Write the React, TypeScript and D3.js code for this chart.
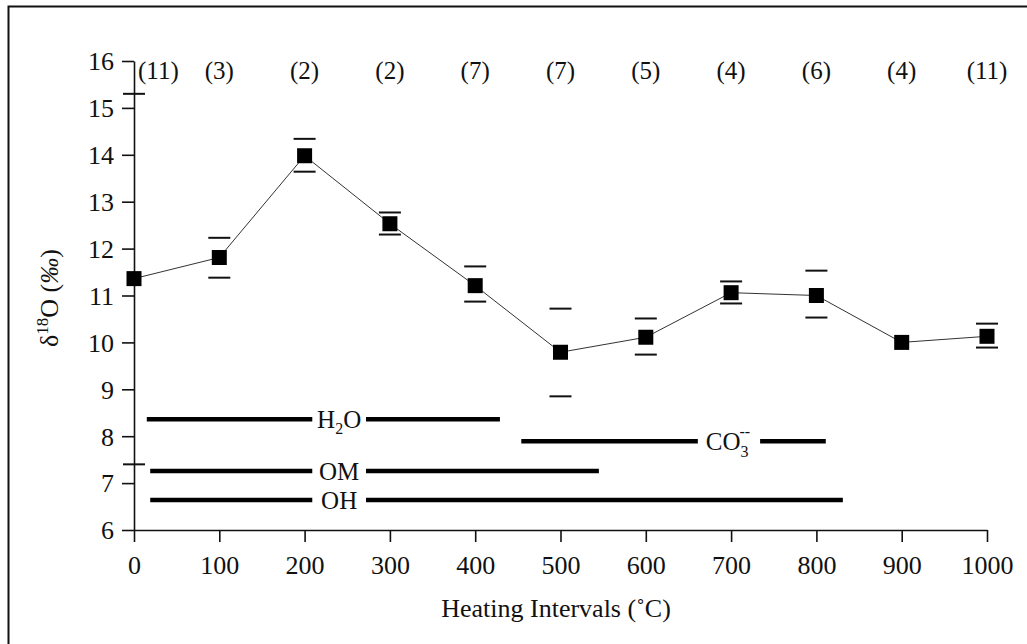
import React, { useEffect, useRef } from "react";
import * as d3 from "d3";

// heating step (deg C), mean d18O, error bar ends, number of samples
const temps = [0, 100, 200, 300, 400, 500, 600, 700, 800, 900, 1000];
const means = [11.36, 11.81, 13.98, 12.53, 11.21, 9.79, 10.11, 11.06, 11.0, 10.0, 10.13];
const upper = [15.3, 12.23, 14.34, 12.77, 11.62, 10.72, 10.51, 11.3, 11.53, 10.0, 10.4];
const lower = [7.4, 11.38, 13.64, 12.3, 10.87, 8.85, 9.74, 10.83, 10.53, 10.0, 9.89];
const counts = [11, 3, 2, 2, 7, 7, 5, 4, 6, 4, 11];

// release ranges drawn as thick bars
const rangeNames = ["H2O", "CO3", "OM", "OH"];
const rangeLevel = [8.36, 7.89, 7.26, 6.64];
const rangeFrom = [15, 454, 19, 19];
const rangeTo = [429, 811, 545, 831];
const gapFrom = [209, 661, 209, 209];
const gapTo = [272, 734, 272, 272];

const xTicks = [0, 100, 200, 300, 400, 500, 600, 700, 800, 900, 1000];
const yTicks = [6, 7, 8, 9, 10, 11, 12, 13, 14, 15, 16];

const FONT = "'Liberation Serif', 'Times New Roman', serif";

export default function App() {
  const ref = useRef<SVGSVGElement>(null);

  useEffect(() => {
    const svg = d3.select(ref.current);
    svg.selectAll("*").remove();

    const x = d3.scaleLinear().domain([0, 1000]).range([134, 987]);
    const y = d3.scaleLinear().domain([6, 16]).range([530, 61]);

    // outer frame
    svg.append("rect")
      .attr("x", 8.5).attr("y", 6.5)
      .attr("width", 1040).attr("height", 660)
      .attr("fill", "none").attr("stroke", "#111").attr("stroke-width", 2);

    // axes
    const xAxis = svg.append("g")
      .attr("transform", `translate(0,${y(6)})`)
      .call(d3.axisBottom(x).tickValues(xTicks).tickSize(12).tickSizeOuter(0).tickFormat(d3.format("d")));
    const yAxis = svg.append("g")
      .attr("transform", `translate(${x(0)},0)`)
      .call(d3.axisLeft(y).tickValues(yTicks).tickSize(12).tickSizeOuter(0).tickFormat(d3.format("d")));

    [xAxis, yAxis].forEach(g => {
      g.select(".domain").attr("stroke", "#111").attr("stroke-width", 1.6);
      g.selectAll(".tick line").attr("stroke", "#111").attr("stroke-width", 1.6);
      g.selectAll(".tick text")
        .attr("font-family", FONT).attr("font-size", 26).attr("fill", "#111");
    });
    xAxis.selectAll(".tick text").attr("dy", "1.1em");
    yAxis.selectAll(".tick text").attr("x", -20).attr("dy", "0.34em");

    // connecting line
    const line = d3.line<number>()
      .x((d, i) => x(temps[i]))
      .y(d => y(d));
    svg.append("path")
      .attr("d", line(means))
      .attr("fill", "none").attr("stroke", "#333").attr("stroke-width", 1);

    // error bar caps
    const capW = 22;
    temps.forEach((t, i) => {
      if (upper[i] === lower[i]) return;
      [upper[i], lower[i]].forEach(v => {
        svg.append("line")
          .attr("x1", x(t) - capW / 2).attr("x2", x(t) + capW / 2)
          .attr("y1", y(v)).attr("y2", y(v))
          .attr("stroke", "#111").attr("stroke-width", 2);
      });
    });

    // markers
    const sq = 15;
    svg.selectAll("rect.pt")
      .data(means)
      .enter().append("rect")
      .attr("class", "pt")
      .attr("x", (d, i) => x(temps[i]) - sq / 2)
      .attr("y", d => y(d) - sq / 2)
      .attr("width", sq).attr("height", sq)
      .attr("fill", "#000");

    // sample counts along the top
    svg.selectAll("text.cnt")
      .data(counts)
      .enter().append("text")
      .attr("class", "cnt")
      .attr("x", (d, i) => (i === 0 ? x(temps[i]) + 4 : x(temps[i])))
      .attr("y", 79)
      .attr("text-anchor", (d, i) => (i === 0 ? "start" : "middle"))
      .attr("font-family", FONT).attr("font-size", 25).attr("fill", "#111")
      .text(d => `(${d})`);

    // release range bars
    rangeNames.forEach((name, i) => {
      const yy = y(rangeLevel[i]);
      [[rangeFrom[i], gapFrom[i]], [gapTo[i], rangeTo[i]]].forEach(seg => {
        svg.append("line")
          .attr("x1", x(seg[0])).attr("x2", x(seg[1]))
          .attr("y1", yy).attr("y2", yy)
          .attr("stroke", "#000").attr("stroke-width", 4.5);
      });
      const lbl = svg.append("text")
        .attr("x", x((gapFrom[i] + gapTo[i]) / 2))
        .attr("y", yy + 9)
        .attr("text-anchor", "middle")
        .attr("font-family", FONT).attr("font-size", 25).attr("fill", "#111");
      if (name === "H2O") {
        lbl.append("tspan").text("H");
        lbl.append("tspan").attr("font-size", 16).attr("dy", 6).text("2");
        lbl.append("tspan").attr("dy", -6).text("O");
      } else if (name === "CO3") {
        lbl.append("tspan").text("CO");
        lbl.append("tspan").attr("font-size", 16).attr("dy", 7).text("3");
        lbl.append("tspan").attr("font-size", 16).attr("dx", -9).attr("dy", -20).text("--");
        lbl.append("tspan").attr("dy", 13).text("\u200a");
      } else {
        lbl.text(name);
      }
    });

    // axis titles
    svg.append("text")
      .attr("x", 556).attr("y", 617)
      .attr("text-anchor", "middle")
      .attr("font-family", FONT).attr("font-size", 26).attr("fill", "#111")
      .text("Heating Intervals (\u02daC)");

    const yl = svg.append("text")
      .attr("transform", "translate(58,298) rotate(-90)")
      .attr("text-anchor", "middle")
      .attr("font-family", FONT).attr("font-size", 26).attr("fill", "#111");
    yl.append("tspan").text("\u03b4");
    yl.append("tspan").attr("font-size", 17).attr("dy", -10).text("18");
    yl.append("tspan").attr("dy", 10).text("O (");
    yl.append("tspan").attr("font-style", "italic").text("\u2030");
    yl.append("tspan").text(")");
  }, []);

  return (
    <div style={{ position: "fixed", left: 0, top: 0 }}>
      <svg ref={ref} width={1027} height={644} style={{ display: "block", background: "#fff" }} />
    </div>
  );
}
